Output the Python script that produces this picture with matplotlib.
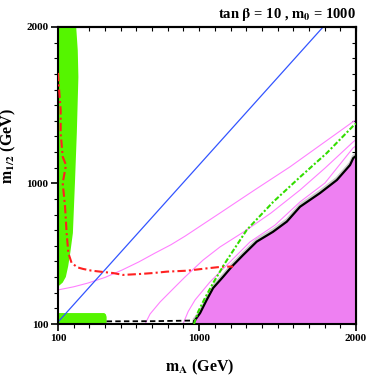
import numpy as np
import matplotlib
matplotlib.use("Agg")
import matplotlib.pyplot as plt
from matplotlib.ticker import MultipleLocator, FixedLocator

plt.rcParams['font.family'] = ['Liberation Serif', 'DejaVu Serif']
plt.rcParams['font.weight'] = 'bold'
plt.rcParams['mathtext.fontset'] = 'stix'

# excluded region (pink), boundary m_A vs m_1/2
bound_x = [965, 968, 974, 1006, 1048, 1089, 1152, 1208, 1280, 1367, 1471, 1559, 1643, 1771, 1878, 1962, 1983, 2000]
bound_y = [100, 120, 125, 170, 254, 330, 401, 467, 541, 627, 690, 755, 850, 938, 1021, 1117, 1162, 1175]

# green band at small m_A
green_edge_x = [100, 113, 130, 150, 165, 178, 195, 208, 220, 230, 226, 216]
green_edge_y = [340, 350, 365, 401, 470, 554, 682, 1002, 1322, 1680, 1850, 2000]
strip_x = [100, 100, 395, 405, 410, 410]
strip_y = [100, 170, 170, 162, 145, 100]

# red dash-dot contour
red_x = [100, 108, 117, 117, 130, 151, 130, 145, 155, 166, 187, 225, 261, 310, 368, 451, 515, 623, 706, 795, 923, 1050, 1152, 1216]
red_y = [1706, 1586, 1469, 1322, 1170, 1117, 1002, 850, 682, 554, 490, 462, 452, 442, 435, 426, 414, 420, 426, 435, 441, 456, 467, 467]

# blue straight line
blue_x = [105, 1790]
blue_y = [118, 2000]

# green dash-dot
gdd_x = [967, 993, 1037, 1089, 1165, 1303, 1471, 1643, 1814, 1981, 2000]
gdd_y = [100, 177, 266, 362, 490, 701, 880, 1040, 1194, 1366, 1382]

# pink contours
p1_x = [100, 200, 291, 400, 508, 615, 719, 820, 910, 1020, 1133, 1350, 1580, 1981, 2000]
p1_y = [318, 338, 362, 398, 445, 497, 554, 607, 662, 735, 810, 955, 1106, 1394, 1406]
p3_x = [655, 687, 751, 846, 910, 1025, 1133, 1293, 1458, 1643, 1803, 1981, 2000]
p3_y = [100, 164, 241, 337, 401, 509, 593, 695, 810, 957, 1098, 1264, 1280]
p4_x = [897, 930, 974, 1069, 1165, 1324, 1484, 1643, 1802, 1981, 2000]
p4_y = [100, 180, 254, 369, 465, 625, 733, 881, 1002, 1226, 1240]

# black dashed
dash_x = [410, 700, 960]
dash_y = [117, 118, 122]

fig = plt.figure(figsize=(3.67, 3.82), dpi=100)
ax = fig.add_axes([58/367, 1 - 324/382, 298/367, 297/382])

ax.fill(np.r_[bound_x, 2000], np.r_[bound_y, 100], color='#ee80f2', lw=0, zorder=1)
ax.plot(bound_x, np.array(bound_y) + 12, color='#cccccc', lw=2.0, zorder=2)
ax.plot(bound_x, bound_y, color='black', lw=1.6, zorder=3)

ax.fill(np.r_[100, green_edge_x, 100], np.r_[340, green_edge_y, 2000], color='#55f500', lw=0, zorder=1)
ax.fill(strip_x, strip_y, color='#55f500', lw=0, zorder=1)

for px, py in [(p1_x, p1_y), (p3_x, p3_y), (p4_x, p4_y)]:
    ax.plot(px, py, color='#ff80ff', lw=0.8, zorder=2)

ax.plot(blue_x, blue_y, color='#3355ff', lw=0.9, zorder=2)
ax.plot(red_x, red_y, color='#ff2020', lw=1.5, dashes=(4, 1.5, 1, 1.5), zorder=4)
ax.plot(gdd_x, gdd_y, color='#33dd00', lw=1.5, dashes=(2.5, 1, 1, 1), zorder=4)
ax.plot(dash_x, dash_y, color='black', lw=1.3, dashes=(3, 1.8), zorder=3)

ax.set_xlim(100, 2000)
ax.set_ylim(100, 2000)
ticks = [100, 1000, 2000]
ax.xaxis.set_major_locator(FixedLocator(ticks))
ax.yaxis.set_major_locator(FixedLocator(ticks))
ax.xaxis.set_minor_locator(MultipleLocator(100))
ax.yaxis.set_minor_locator(MultipleLocator(100))
ax.tick_params(which='major', direction='out', length=5, width=1.2, labelsize=8, pad=2)
ax.tick_params(which='minor', direction='out', length=3, width=0.8)
for lab in ax.get_xticklabels() + ax.get_yticklabels():
    lab.set_fontweight('bold')

secx = ax.secondary_xaxis('top')
secx.xaxis.set_major_locator(FixedLocator(ticks))
secx.xaxis.set_minor_locator(MultipleLocator(100))
secx.tick_params(which='both', direction='in', labeltop=False, length=3, width=0.8)
secy = ax.secondary_yaxis('right')
secy.yaxis.set_major_locator(FixedLocator(ticks))
secy.yaxis.set_minor_locator(MultipleLocator(100))
secy.tick_params(which='both', direction='in', labelright=False, length=3, width=0.8)
for s in list(ax.spines.values()) + [secx.spines['top'], secy.spines['right']]:
    s.set_linewidth(1.5)

ax.set_xlabel(r'$\mathbf{m_A}$ (GeV)', fontsize=11.5, fontweight='bold')
ax.set_ylabel(r'$\mathbf{m_{1/2}}$ (GeV)', fontsize=11.5, fontweight='bold')
ax.xaxis.set_label_coords(0.477, -0.115)
ax.yaxis.set_label_coords(-0.135, 0.6)
ax.text(1.0, 1.012, r'tan $\mathbf{\beta}$ = 10 , $\mathbf{m_0}$ = 1000', transform=ax.transAxes,
        ha='right', va='bottom', fontsize=10.5, fontweight='bold')

fig.savefig('out.png', dpi=100)
